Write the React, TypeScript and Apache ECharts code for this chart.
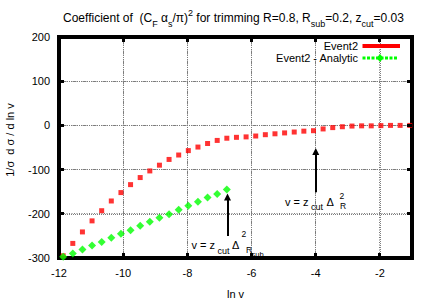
import React, { useEffect, useRef } from 'react';
import * as echarts from 'echarts';

// ln v sample positions
const lnV = [
  -11.87, -11.57, -11.27, -10.97, -10.67, -10.37, -10.07, -9.77, -9.47, -9.17,
  -8.87, -8.57, -8.27, -7.97, -7.67, -7.37, -7.07, -6.77, -6.47, -6.17,
  -5.87, -5.57, -5.27, -4.97, -4.67, -4.37, -4.07, -3.77, -3.47, -3.17,
  -2.87, -2.57, -2.27, -1.97, -1.67, -1.37, -1.07,
];
// Event2 (red squares)
const event2 = [
  -295, -267, -241, -216, -193, -171, -152, -134, -118, -103,
  -90, -77, -67, -57, -49, -41, -34, -29, -27, -26,
  -24, -21, -19, -17, -15, -13, -12, -8, -5, -3,
  -1.5, -1, -1, -0.5, 0, 0, 0,
];
// Event2 - Analytic (green diamonds)
const analytic = [
  -297, -290, -281, -272, -264, -254, -245, -237, -227, -218,
  -209, -201, -191, -182, -173, -163, -155, -145,
];
// inner grid / tick positions
const xGridTicks = [-10, -8, -6, -4, -2];
const yGridTicks = [-200, -100, 0, 100];
const X_MIN = -12;
const X_MAX = -1;
const Y_MIN = -300;
const Y_MAX = 200;
// annotation arrows (ln v, from, to)
const arrowX = [-4, -6.75];
const arrowFrom = [-151, -250];
const arrowTo = [-59, -162];

const FONT = '"Liberation Sans", Arial, Helvetica, sans-serif';

function txt(text: string, x: number, y: number, size: number, align = 'left', extra: any = {}) {
  return {
    type: 'text',
    x,
    y,
    silent: true,
    z: 10,
    ...extra,
    style: {
      text,
      fontSize: size,
      fontFamily: FONT,
      fill: '#000',
      align,
      textAlign: align,
      verticalAlign: 'middle',
      textVerticalAlign: 'middle',
    },
  };
}

function makeStatic(): any[] {
  return [
    txt('1/σ  d σ / d ln v', 10, 140, 11, 'center', { rotation: Math.PI / 2 }),
    txt('Event2', 358, 46, 11, 'right'),
    { type: 'rect', silent: true, z: 10, shape: { x: 362.5, y: 44, width: 37.5, height: 4 }, style: { fill: '#ff0000' } },
    txt('Event2 - Analytic', 358, 58, 11, 'right'),
    {
      type: 'line',
      silent: true,
      z: 10,
      shape: { x1: 362.5, y1: 58, x2: 397, y2: 58 },
      style: { stroke: '#00ff00', lineWidth: 3, lineDash: [3, 1.5] },
    },
    {
      type: 'polygon',
      silent: true,
      z: 10,
      shape: { points: [[380, 54], [383.5, 58], [380, 62], [376.5, 58]] },
      style: { fill: '#00ff00' },
    },
    txt('v = z', 285, 201.7, 11),
    txt('cut', 311, 206.5, 9),
    txt('Δ', 326.5, 201.5, 11),
    txt('2', 339.5, 195.5, 8.5),
    txt('R', 340, 205.5, 8.5),
    txt('v = z', 191.5, 245, 11),
    txt('cut', 217.5, 250.5, 9),
    txt('Δ', 232, 245, 11),
    txt('2', 241.5, 233.5, 8.5),
    txt('R', 246, 249.5, 8.5),
    txt('sub', 251.5, 254, 7.5),
  ];
}

export default function App() {
  const ref = useRef<HTMLDivElement>(null);
  useEffect(() => {
    document.body.style.margin = '0';
    const chart = echarts.init(ref.current!, null, { renderer: 'svg' });
    const frameLine = { show: true, onZero: false, lineStyle: { color: '#000', width: 4, cap: 'square' } };
    const tick = { show: true, inside: true, length: 5, lineStyle: { color: '#000', width: 2 } };
    const split = { show: true, lineStyle: { color: '#808080', width: 1, type: 'dotted' } };
    chart.setOption({
      animation: false,
      backgroundColor: '#ffffff',
      textStyle: { fontFamily: FONT },
      title: {
        text:
          '{n|Coefficient of  (C}{sub|F}{n| α}{sub|s}{n|/π)}{sup|2}{n| for trimming R=0.8, R}{sub|sub}{n|=0.2, z}{sub|cut}{n|=0.03}',
        left: 63,
        top: 8,
        padding: 0,
        textStyle: {
          fontFamily: FONT,
          fontSize: 12,
          fontWeight: 'normal',
          color: '#000',
          lineHeight: 20,
          rich: {
            n: { fontFamily: FONT, fontSize: 12, lineHeight: 20, color: '#000' },
            sub: { fontFamily: FONT, fontSize: 9, lineHeight: 11, color: '#000', verticalAlign: 'bottom' },
            sup: { fontFamily: FONT, fontSize: 9, lineHeight: 9, color: '#000', verticalAlign: 'top' },
          },
        },
      },
      grid: { left: 59, right: 22, top: 37, bottom: 40, show: false },
      xAxis: [
        {
          type: 'value',
          min: X_MIN,
          max: X_MAX,
          interval: 2,
          position: 'bottom',
          name: 'ln v',
          nameLocation: 'middle',
          nameGap: 30,
          nameTextStyle: { fontSize: 11, color: '#000', fontFamily: FONT },
          axisLine: { ...frameLine },
          axisTick: { ...tick },
          axisLabel: { fontSize: 11, color: '#000', margin: 9, fontFamily: FONT, showMaxLabel: false },
          splitLine: { ...split },
        },
        {
          type: 'value',
          min: X_MIN,
          max: X_MAX,
          interval: 2,
          position: 'top',
          axisLine: { ...frameLine },
          axisTick: { ...tick },
          axisLabel: { show: false },
          splitLine: { show: false },
        },
      ],
      yAxis: [
        {
          type: 'value',
          min: Y_MIN,
          max: Y_MAX,
          interval: 100,
          position: 'left',
          axisLine: { ...frameLine },
          axisTick: { ...tick },
          axisLabel: { fontSize: 11, color: '#000', margin: 9, fontFamily: FONT },
          splitLine: { ...split },
        },
        {
          type: 'value',
          min: Y_MIN,
          max: Y_MAX,
          interval: 100,
          position: 'right',
          axisLine: { ...frameLine },
          axisTick: { ...tick },
          axisLabel: { show: false },
          splitLine: { show: false },
        },
      ],
      series: [
        {
          name: 'Event2',
          type: 'scatter',
          data: lnV.map((x, i) => [x, event2[i]]),
          symbol: 'rect',
          symbolSize: 5,
          itemStyle: { color: '#ff0000' },
          z: 3,
        },
        {
          name: 'Event2 - Analytic',
          type: 'scatter',
          data: analytic.map((y, i) => [lnV[i], y]),
          symbol: 'diamond',
          symbolSize: 8,
          itemStyle: { color: '#00ff00' },
          z: 4,
          markLine: {
            silent: true,
            symbol: ['none', 'triangle'],
            symbolSize: 7,
            label: { show: false },
            lineStyle: { color: '#000', width: 2, type: 'solid' },
            itemStyle: { color: '#000' },
            emphasis: { disabled: true },
            data: arrowX.map((x, i) => [{ coord: [x, arrowFrom[i]] }, { coord: [x, arrowTo[i]] }]),
          },
        },
      ],
      graphic: { elements: makeStatic() },
    });

    // extra dotted grid lines and tick nubs placed through the axes' scales
    try {
      const px = (x: number, y: number) => chart.convertToPixel({ xAxisIndex: 0, yAxisIndex: 0 }, [x, y]) as number[];
      const crisp = (v: number) => Math.round(v - 0.5) + 0.5;
      const gridEls: any[] = [];
      xGridTicks.forEach((x) => {
        const b = px(x, Y_MIN);
        const t = px(x, Y_MAX);
        if (!b || !t) return;
        const cx = crisp(b[0]);
        gridEls.push({ type: 'line', silent: true, z: 2, shape: { x1: cx, y1: t[1], x2: cx, y2: b[1] }, style: { stroke: '#7a7a7a', lineWidth: 1, lineDash: [1, 1.5] } });
        gridEls.push({ type: 'rect', silent: true, z: 6, shape: { x: cx - 1.5, y: b[1] - 5, width: 3, height: 5 }, style: { fill: '#000' } });
        gridEls.push({ type: 'rect', silent: true, z: 6, shape: { x: cx - 1.5, y: t[1], width: 3, height: 5 }, style: { fill: '#000' } });
      });
      yGridTicks.forEach((y) => {
        const l = px(X_MIN, y);
        const r = px(X_MAX, y);
        if (!l || !r) return;
        const cy = crisp(l[1]);
        gridEls.push({ type: 'line', silent: true, z: 2, shape: { x1: l[0], y1: cy, x2: r[0], y2: cy }, style: { stroke: '#7a7a7a', lineWidth: 1, lineDash: [1, 1.5] } });
        gridEls.push({ type: 'rect', silent: true, z: 6, shape: { x: l[0], y: cy - 1.5, width: 5, height: 3 }, style: { fill: '#000' } });
        gridEls.push({ type: 'rect', silent: true, z: 6, shape: { x: r[0] - 5, y: cy - 1.5, width: 5, height: 3 }, style: { fill: '#000' } });
      });
      if (gridEls.length) {
        chart.setOption({ graphic: { elements: [...makeStatic(), ...gridEls] } });
      }
    } catch (e) {
      // keep the base chart if conversion is unavailable
    }

    return () => chart.dispose();
  }, []);
  return <div ref={ref} style={{ width: 434, height: 304 }} />;
}
